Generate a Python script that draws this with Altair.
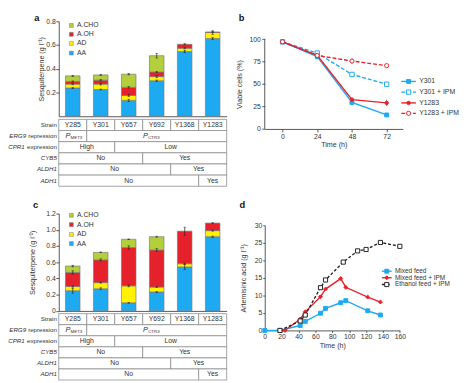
import altair as alt
import pandas as pd

FONT = "Liberation Sans"
TXT = "#333333"
LINEC = "#8c8c8c"
BLUE = "#1eaaf0"
RED = "#e5222b"
YEL = "#fff100"
GRN = "#b3cf3b"
BLK = "#222222"
AXC = "#444444"

# ---------------- data ----------------
strains = ["Y285", "Y301", "Y657", "Y692", "Y1368", "Y1283"]
components = ["AA", "AD", "A.OH", "A.CHO"]
legend_order = ["A.CHO", "A.OH", "AD", "AA"]

a_AA = [0.238, 0.225, 0.134, 0.299, 0.545, 0.655]
a_AD = [0.033, 0.046, 0.041, 0.035, 0.028, 0.050]
a_OH = [0.022, 0.033, 0.069, 0.039, 0.033, 0.005]
a_CHO = [0.047, 0.044, 0.110, 0.137, 0.0, 0.0]
a_err_AA = [0.005, 0.004, 0.010, 0.006, 0.010, 0.010]
a_err_AD = [0.006, 0.008, 0.010, 0.008, 0.006, 0.015]
a_err_OH = [0.004, 0.005, 0.006, 0.005, 0.005, 0.004]
a_err_CHO = [0.005, 0.004, 0.006, 0.020, 0.0, 0.0]

c_AA = [0.249, 0.273, 0.100, 0.233, 0.542, 0.915]
c_AD = [0.052, 0.076, 0.209, 0.061, 0.040, 0.075]
c_OH = [0.173, 0.281, 0.473, 0.457, 0.401, 0.093]
c_CHO = [0.079, 0.092, 0.101, 0.164, 0.0, 0.0]
c_err_AA = [0.030, 0.012, 0.005, 0.006, 0.030, 0.008]
c_err_AD = [0.008, 0.006, 0.012, 0.006, 0.006, 0.006]
c_err_OH = [0.020, 0.012, 0.020, 0.020, 0.050, 0.005]
c_err_CHO = [0.010, 0.004, 0.004, 0.006, 0.0, 0.0]

erg9_spans = [("MET3", 0, 1), ("CTR3", 1, 6)]
cpr1_spans = [("High", 0, 2), ("Low", 2, 6)]
cyb5_spans = [("No", 0, 3), ("Yes", 3, 6)]
aldh1_spans = [("No", 0, 4), ("Yes", 4, 6)]
adh1_spans = [("No", 0, 5), ("Yes", 5, 6)]

time_b = [0, 24, 48, 72]
b_names = ["Y301", "Y301 + IPM", "Y1283", "Y1283 + IPM"]
b_Y301 = [97, 80.5, 29.5, 15.6]
b_Y301_IPM = [97, 84.5, 60.7, 49.8]
b_Y1283 = [97, 82.0, 32.7, 29.0]
b_Y1283_IPM = [97, 81.8, 75.6, 70.5]
b_err_Y301 = [0, 1.5, 2.0, 1.0]
b_err_Y301_IPM = [0, 1.0, 2.0, 1.5]
b_err_Y1283 = [0, 2.0, 2.0, 3.5]
b_err_Y1283_IPM = [0, 1.0, 3.0, 1.5]

d_names = ["Mixed feed", "Mixed feed + IPM", "Ethanol feed + IPM"]
d_mixed_t = [0, 18, 42, 48, 66, 72, 90, 96, 122, 137]
d_mixed = [0, 0, 1.4, 2.6, 4.9, 6.3, 7.9, 8.5, 5.6, 4.4]
d_mixed_ipm_t = [18, 24, 42, 48, 66, 72, 90, 96, 122, 137]
d_mixed_ipm = [0, 0, 3.25, 5.3, 9.6, 11.8, 14.8, 12.3, 9.5, 8.1]
d_ethanol_t = [18, 42, 48, 66, 72, 93, 110, 120, 137, 160]
d_ethanol = [0, 2.7, 4.4, 12.2, 14.4, 19.5, 22.7, 23.1, 25.1, 24.0]

comp_colors = {"AA": BLUE, "AD": YEL, "A.OH": RED, "A.CHO": GRN}
color_scale = alt.Scale(domain=components, range=[comp_colors[c] for c in components])


def letter(ch, x, y):
    return alt.Chart(pd.DataFrame({"t": [ch]})).mark_text(
        font=FONT, fontSize=9.5, fontWeight="bold", align="left", baseline="middle", color="#111"
    ).encode(text="t:N", x=alt.value(x), y=alt.value(y))


# ---------------- stacked bar panels ----------------
def bar_panel(vals, errs, ymax, height, yax, leg_y, leg_x, let):
    rows = []
    for i, s in enumerate(strains):
        base = 0.0
        for comp, v, e in zip(components, vals, errs):
            rows.append(dict(strain=s, comp=comp, y0=base, y1=base + v[i], v=v[i], err=e[i],
                             left=i + 0.24, right=i + 0.76, mid=i + 0.5))
            base += v[i]
    df = pd.DataFrame(rows)
    df = df[df.v > 0]
    df["elo"] = df.y1 - df.err
    df["ehi"] = df.y1 + df.err
    edf = df[df.err > 0]
    xs = alt.Scale(domain=[0, 6], nice=False, zero=False)
    ys = alt.Scale(domain=[0, ymax], nice=False, zero=True)
    xax = alt.Axis(labels=False, ticks=False, title=None, domain=True)
    X = lambda f: alt.X(f, scale=xs, axis=xax)
    Y = lambda f: alt.Y(f, scale=ys, axis=yax)
    bars = alt.Chart(df).mark_rect(stroke="#7a7a7a", strokeWidth=0.7).encode(
        x=X("left:Q"), x2="right:Q", y=Y("y0:Q"), y2="y1:Q",
        color=alt.Color("comp:N", scale=color_scale, legend=None),
    )
    erule = alt.Chart(edf).mark_rule(color=BLK, strokeWidth=0.7).encode(
        x=X("mid:Q"), y=Y("elo:Q"), y2="ehi:Q")
    ecap_hi = alt.Chart(edf).mark_tick(color=BLK, orient="horizontal", size=2.5, thickness=0.7).encode(
        x=X("mid:Q"), y=Y("ehi:Q"))
    ecap_lo = alt.Chart(edf).mark_tick(color=BLK, orient="horizontal", size=2.5, thickness=0.7).encode(
        x=X("mid:Q"), y=Y("elo:Q"))
    leg = pd.DataFrame({"comp": legend_order, "ly": leg_y, "lx": leg_x[0], "tx": leg_x[1]})
    lsq = alt.Chart(leg).mark_square(size=16, stroke="#7a7a7a", strokeWidth=0.5, opacity=1).encode(
        x=X("lx:Q"), y=Y("ly:Q"), color=alt.Color("comp:N", scale=color_scale, legend=None))
    ltx = alt.Chart(leg).mark_text(font=FONT, fontSize=7, align="left", baseline="middle", color=TXT).encode(
        x=X("tx:Q"), y=Y("ly:Q"), text="comp:N")
    return alt.layer(bars, erule, ecap_hi, ecap_lo, lsq, ltx, let).properties(width=172, height=height)


def table_cells():
    rows = []
    for i, s in enumerate(strains):
        rows.append(dict(row=0, x0=i, x1=i + 1, label=s, kind="plain"))
    for lab, a, b in erg9_spans:
        rows.append(dict(row=1, x0=a, x1=b, label=lab, kind="promoter"))
    for r, spans in [(2, cpr1_spans), (3, cyb5_spans), (4, aldh1_spans), (5, adh1_spans)]:
        for lab, a, b in spans:
            rows.append(dict(row=r, x0=a, x1=b, label=lab, kind="plain"))
    df = pd.DataFrame(rows)
    df["r0"] = df.row
    df["r1"] = df.row + 1
    df["xm"] = (df.x0 + df.x1) / 2
    df["ym"] = df.row + 0.5
    return df


def table_chart(height, ymax):
    cells = table_cells()
    xs = alt.Scale(domain=[0, 6], nice=False, zero=False)
    ys = alt.Scale(domain=[0, ymax], nice=False, zero=False, reverse=True)
    X = lambda f: alt.X(f, scale=xs, axis=None)
    Y = lambda f: alt.Y(f, scale=ys, axis=None)
    base = alt.Chart(cells)
    rect = base.mark_rect(fill="white", stroke=LINEC, strokeWidth=0.8).encode(
        x=X("x0:Q"), x2="x1:Q", y=Y("r0:Q"), y2="r1:Q")
    plain = base.transform_filter("datum.kind == 'plain'").mark_text(
        font=FONT, fontSize=7, color=TXT, baseline="middle").encode(x=X("xm:Q"), y=Y("ym:Q"), text="label:N")
    layers = [rect, plain]
    for lab, pdx in [("MET3", -2.5), ("CTR3", -9)]:
        sel = base.transform_filter(f"datum.label == '{lab}'")
        layers.append(sel.mark_text(font=FONT, fontSize=7.5, fontStyle="italic", color=TXT, baseline="middle",
                                    align="right", dx=pdx).encode(x=X("xm:Q"), y=Y("ym:Q"), text=alt.value("P")))
        layers.append(sel.mark_text(font=FONT, fontSize=4.5, color=TXT, baseline="middle",
                                    align="left", dx=pdx + 0.3, dy=2.2).encode(x=X("xm:Q"), y=Y("ym:Q"), text="label:N"))
    lab = pd.DataFrame({"row": [0, 1, 2, 3, 4, 5],
                        "gene": ["", "ERG9", "CPR1", "CYB5", "ALDH1", "ADH1"],
                        "rest": ["Strain", "repression", "expression", "", "", ""]})
    lab["ym"] = lab.row + 0.5
    fs = 6.3
    lb = alt.Chart(lab)
    layers.append(lb.transform_filter("datum.rest != ''").mark_text(
        font=FONT, fontSize=fs, color=TXT, baseline="middle", align="right").encode(
        x=alt.value(-2), y=Y("ym:Q"), text="rest:N"))
    layers.append(lb.transform_filter("datum.rest == '' && datum.gene != ''").mark_text(
        font=FONT, fontSize=fs, fontStyle="italic", color=TXT, baseline="middle", align="right").encode(
        x=alt.value(-2), y=Y("ym:Q"), text="gene:N"))
    for g, w in [("ERG9", 31.5), ("CPR1", 33.0)]:
        layers.append(lb.transform_filter(f"datum.gene == '{g}'").mark_text(
            font=FONT, fontSize=fs, fontStyle="italic", color=TXT, baseline="middle", align="right").encode(
            x=alt.value(-2 - w), y=Y("ym:Q"), text="gene:N"))
    return alt.layer(*layers).properties(width=172, height=height)


a_axis = alt.Axis(values=[0.2, 0.4, 0.6, 0.8], format=".1f", title="Sesquiterpene (g l⁻¹)",
                  titlePadding=0.5, tickSize=3, labelPadding=0.5)
c_axis = alt.Axis(values=[0, 0.2, 0.4, 0.6, 0.8, 1.0, 1.2],
                  labelExpr="datum.value == 0 ? '0' : format(datum.value, '.1f')",
                  title="Sesquiterpene (g l⁻¹)", titlePadding=10, tickSize=3, labelPadding=0.5,
                  labelFlush=False)

a_chart = bar_panel([a_AA, a_AD, a_OH, a_CHO], [a_err_AA, a_err_AD, a_err_OH, a_err_CHO],
                    0.8, 97.3, a_axis, [0.765, 0.69, 0.614, 0.532], (0.45, 0.65), letter("a", -25, -2.85))
c_chart = bar_panel([c_AA, c_AD, c_OH, c_CHO], [c_err_AA, c_err_AD, c_err_OH, c_err_CHO],
                    1.2, 99.7, c_axis, [1.179, 1.064, 0.943, 0.830], (0.45, 0.65), letter("c", -26.3, -8.85))
a_table = table_chart(94, 94 / 11.42)
c_table = table_chart(68, 6)

left = alt.vconcat(a_chart, a_table, c_chart, c_table, spacing=2.5, bounds="flush")


# ---------------- line panels ----------------
def point_kw(color, shape, filled, size):
    pk = dict(shape=shape, size=size, opacity=1, strokeWidth=1)
    if filled:
        pk.update(filled=True, fill=color, stroke=color)
    else:
        pk.update(filled=False, fill="white", stroke=color)
    return pk


def series_layers(t, v, err, X, Y, color, dash, shape, filled, size):
    df = pd.DataFrame({"t": t, "v": v})
    lk = dict(color=color, strokeWidth=1.4)
    if dash:
        lk["strokeDash"] = dash
    out = [alt.Chart(df).mark_line(**lk).encode(x=X("t:Q"), y=Y("v:Q"))]
    if err is not None:
        edf = pd.DataFrame({"t": t, "lo": [a - b for a, b in zip(v, err)],
                            "hi": [a + b for a, b in zip(v, err)], "e": err})
        edf = edf[edf.e > 0]
        out.append(alt.Chart(edf).mark_rule(color="#444", strokeWidth=0.7).encode(
            x=X("t:Q"), y=Y("lo:Q"), y2="hi:Q"))
    out.append(alt.Chart(df).mark_point(**point_kw(color, shape, filled, size)).encode(x=X("t:Q"), y=Y("v:Q")))
    return out


def legend_layers(names, styles, ys_vals, x0, x1, xt, X, Y, fs):
    out = []
    for name, st, yv in zip(names, styles, ys_vals):
        color, dash, shape, filled, size = st
        df = pd.DataFrame({"name": [name], "x0": [x0], "x1": [x1], "xm": [(x0 + x1) / 2], "xt": [xt], "y": [yv]})
        rk = dict(color=color, strokeWidth=1.4)
        if dash:
            rk["strokeDash"] = dash
        out.append(alt.Chart(df).mark_rule(**rk).encode(x=X("x0:Q"), x2="x1:Q", y=Y("y:Q")))
        out.append(alt.Chart(df).mark_point(**point_kw(color, shape, filled, size)).encode(x=X("xm:Q"), y=Y("y:Q")))
        out.append(alt.Chart(df).mark_text(font=FONT, fontSize=fs, align="left", baseline="middle", color=TXT).encode(
            x=X("xt:Q"), y=Y("y:Q"), text="name:N"))
    return out


# panel b: view extended above 100 so its top lines up with panel a; axis line drawn as a rule up to 100
B_XMIN, B_XMAX = -12.3, 83.2
B_H = 110.3
B_TOP = 100 * B_H / 92
xb = alt.Scale(domain=[B_XMIN, B_XMAX], nice=False, zero=False)
yb = alt.Scale(domain=[0, B_TOP], nice=False, zero=False)
b_xaxis = alt.Axis(values=time_b, title="Time (h)", tickSize=3, labelPadding=1, titlePadding=1,
                   labelFlush=False)
b_yaxis = alt.Axis(values=[0, 25, 50, 75, 100], title="Viable cells (%)", tickSize=3, labelPadding=1.5,
                   titlePadding=5.5, domain=False, titleY=(B_H - 92) + 46, labelFlush=False)
XB = lambda f: alt.X(f, scale=xb, axis=b_xaxis)
YB = lambda f: alt.Y(f, scale=yb, axis=b_yaxis)
b_styles = [(BLUE, None, "square", True, 16), (BLUE, [4, 2], "square", False, 20),
            (RED, None, "circle", True, 12), (RED, [4, 2], "circle", False, 18)]
b_axisline = alt.Chart(pd.DataFrame({"x": [B_XMIN], "y0": [0], "y1": [100]})).mark_rule(
    color=AXC, strokeWidth=0.9).encode(x=XB("x:Q"), y=YB("y0:Q"), y2="y1:Q")
b_layers = [b_axisline]
for vals, errs, st in zip([b_Y301, b_Y301_IPM, b_Y1283, b_Y1283_IPM],
                          [b_err_Y301, b_err_Y301_IPM, b_err_Y1283, b_err_Y1283_IPM], b_styles):
    b_layers += series_layers(time_b, vals, errs, XB, YB, *st)
b_layers += legend_layers(b_names, b_styles, [52.9, 41.0, 29.0, 17.4], 82.1, 92.2, 94.5, XB, YB, 7)
b_chart = alt.layer(*b_layers, letter("b", -26.5, -3.55)).properties(width=141.5, height=B_H)

xd = alt.Scale(domain=[0, 160], nice=False, zero=False)
yd = alt.Scale(domain=[0, 30], nice=False, zero=False)
d_xaxis = alt.Axis(values=[0, 20, 40, 60, 80, 100, 120, 140, 160], title="Time (h)", tickSize=2,
                   labelPadding=0.5, titlePadding=1.5, labelOverlap=False, labelFlush=False)
d_yaxis = alt.Axis(values=[0, 5, 10, 15, 20, 25, 30], title="Artemisinic acid (g l⁻¹)", tickSize=2,
                   labelPadding=1, titlePadding=6.5, labelOverlap=False, labelFlush=False)
XD = lambda f: alt.X(f, scale=xd, axis=d_xaxis)
YD = lambda f: alt.Y(f, scale=yd, axis=d_yaxis)
d_styles = [(BLUE, None, "square", True, 16), (RED, None, "diamond", True, 16), (BLK, [3, 2], "square", False, 18)]
d_layers = []
for tt, vals, st in zip([d_mixed_t, d_mixed_ipm_t, d_ethanol_t], [d_mixed, d_mixed_ipm, d_ethanol], d_styles):
    d_layers += series_layers(tt, vals, None, XD, YD, *st)
d_layers += legend_layers(d_names, d_styles, [16.9, 15.04, 13.1], 138.7, 150.3, 154.2, XD, YD, 6.6)
d_chart = alt.layer(*d_layers, letter("d", -25.8, -20.85)).properties(width=138.4, height=107.7)

right = alt.vconcat(b_chart, d_chart, spacing=98, bounds="flush")

chart = alt.hconcat(left, right, spacing=8, padding=0).configure_view(stroke=None).configure_axis(
    labelFont=FONT, titleFont=FONT, labelFontSize=7, titleFontSize=7.3, labelColor=TXT, titleColor=TXT,
    titleFontWeight="normal", domainColor=AXC, tickColor=AXC, domainWidth=0.9, tickWidth=0.9,
    grid=False)

chart.save("out.html", embed_options={"renderer": "svg", "actions": False})
